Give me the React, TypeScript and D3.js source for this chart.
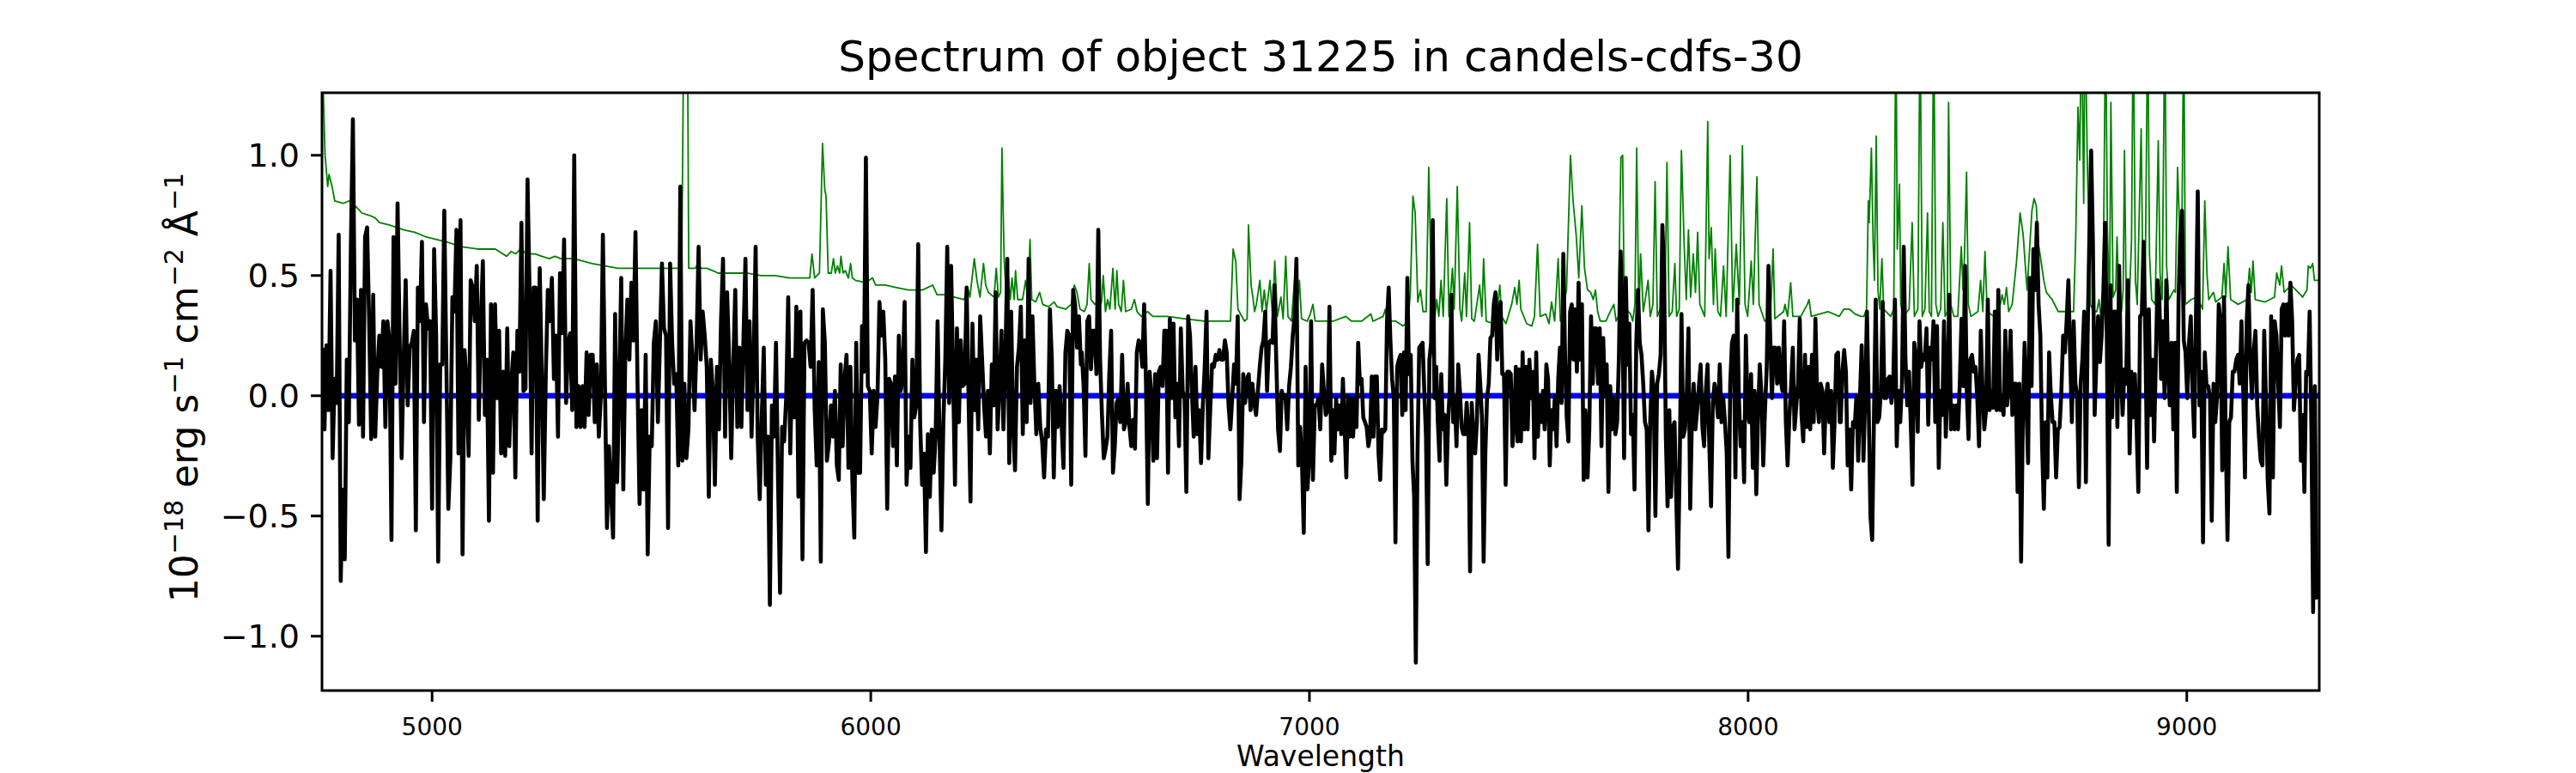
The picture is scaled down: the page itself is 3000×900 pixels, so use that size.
import { useMemo } from "react";
import * as d3 from "d3";

// figure geometry (px)
const W = 3000;
const H = 900;
const PLOT = { left: 375, right: 2701, top: 108, bottom: 804 };

const title = "Spectrum of object 31225 in candels-cdfs-30";
const xLabel = "Wavelength";
const xTicks = [5000, 6000, 7000, 8000, 9000];
const yTicks = [-1.0, -0.5, 0.0, 0.5, 1.0];
const xDomain = [4749, 9302];
const yDomain = [-1.226, 1.26];
const zeroLevel = 0;

// wavelength span covered by each flux chunk (evenly sampled inside)
const segmentRanges = [
  [4750, 5324],
  [5329, 5900],
  [5905, 6479],
  [6481, 7054],
  [7057, 7629],
  [7634, 8209],
  [8211, 8786],
  [8790, 9300],
];

const fluxSeg1 = [
  0.2, -0.14, 0.21, -0.06, 0.52, -0.26, 0.07, -0.03, 0.67, -0.77,
  -0.39, -0.68, 0.15, -0.11, 0.62, 1.15, 0.23, 0.4, -0.12, 0.44,
  -0.17, 0.66, 0.7, 0.31, -0.18, 0.42, -0.17, 0.09, 0.25, 0.12,
  0.31, -0.13, 0.31, 0.23, -0.6, 0.66, 0.05, 0.8, 0.25, -0.26,
  0.15, 0.48, -0.04, 0.2, 0.22, 0.27, -0.56, 0.45, 0.31, 0.64,
  -0.11, 0.38, 0.28, 0.31, -0.47, 0.61, 0.25, -0.69, 0.13, 0.13,
  0.77, 0.15, -0.47, -0.26, 0.41, 0.35, 0.69, -0.24, 0.73, -0.66,
  0.19, 0.05, -0.25, 0.48, 0.45, 0.31, 0.54, -0.1, 0.31, 0.56,
  -0.08, 0.15, -0.52, 0.38, -0.32, 0.38, -0.01, 0.27, -0.24, 0.1,
  -0.25, 0.28, -0.21, 0.05, 0.18, -0.34, 0.27, 0.1, 0.72, 0.02,
  0.03, 0.9, 0.43, -0.24, 0.45, 0.45, -0.52, 0.53, 0.09, -0.43,
  0.09, 0.44, 0.31, 0.49, 0.07, 0.25, -0.17, 0.51, 0.26, 0.65,
  -0.03, 0.22, 0.26, -0.06, 1.0,
];
const fluxSeg2 = [
  -0.13, 0.04, -0.13, 0.04, -0.13, 0.18, -0.08, 0.17, 0.17, -0.11,
  0.13, -0.17, 0.0, 0.67, 0.05, -0.55, -0.21, -0.4, -0.59, 0.34,
  -0.36, 0.02, 0.49, -0.39, 0.17, 0.4, 0.15, 0.47, 0.23, 0.68,
  0.05, -0.45, -0.06, -0.39, 0.17, -0.66, -0.17, -0.21, 0.22, 0.31,
  -0.11, 0.22, 0.55, 0.28, 0.25, -0.55, 0.55, 0.22, 0.05, 0.09,
  -0.29, 0.87, -0.27, 0.05, -0.26, -0.14, 0.31, 0.15, -0.06, 0.22,
  0.62, 0.15, 0.35, 0.25, 0.12, -0.42, 0.15, 0.02, -0.37, 0.12,
  -0.14, 0.31, 0.57, -0.17, 0.43, 0.15, -0.26, 0.12, 0.44, -0.13,
  0.2, -0.13, 0.23, 0.57, -0.06, 0.31, -0.17, 0.15, 0.62, -0.17,
  -0.43, -0.09, 0.2, -0.37, -0.17, -0.87, -0.04, -0.17, 0.22, -0.35,
  -0.82, -0.13, -0.19, -0.01, 0.41, -0.24, 0.15, -0.09, 0.37, -0.42,
  0.35, -0.68, 0.22, 0.23, 0.22, 0.12, 0.44, -0.06, -0.29, 0.14,
  -0.69, 0.36, 0.22, -0.27,
];
const fluxSeg3 = [
  -0.19, -0.04, -0.17, 0.02, -0.29, -0.35, 0.13, -0.21, 0.07, 0.17,
  -0.3, 0.12, -0.35, -0.59, 0.22, -0.32, -0.32, 0.29, 0.1, 0.99,
  0.04, 0.02, -0.24, 0.02, -0.13, 0.0, 0.39, 0.25, 0.35, 0.15,
  -0.47, 0.07, 0.05, -0.21, 0.08, -0.29, 0.25, 0.02, 0.07, 0.39,
  -0.37, -0.17, -0.3, 0.15, -0.09, -0.04, 0.63, -0.11, -0.37, -0.24,
  -0.65, -0.16, -0.42, -0.14, -0.32, -0.17, 0.31, -0.17, -0.56, -0.11,
  0.15, 0.62, -0.03, 0.54, 0.09, -0.37, 0.28, -0.11, 0.23, 0.04,
  0.05, 0.45, -0.01, -0.44, 0.3, -0.06, 0.15, -0.14, 0.33, 0.15,
  -0.04, -0.17, 0.02, -0.24, 0.13, -0.04, 0.43, -0.14, 0.04, 0.27,
  -0.14, 0.15, 0.57, -0.28, 0.35, -0.13, -0.31, 0.12, 0.2, 0.37,
  -0.16, 0.23, -0.11, 0.57, -0.03, 0.33, 0.04, -0.16, 0.05, -0.13,
  -0.19, -0.34, -0.14, -0.17, 0.36, 0.15, -0.34, 0.02, -0.13, 0.04,
  -0.11, -0.3, 0.18, 0.27, 0.25, -0.37, 0.44, 0.38, 0.2, 0.33, 0.13,
];
const fluxSeg4 = [
  0.18, 0.04, -0.25, 0.31, 0.33, 0.11, 0.27, 0.27, 0.09, 0.69,
  0.15, -0.08, -0.26, -0.22, -0.17, 0.09, 0.27, -0.32, -0.21, -0.03,
  -0.01, -0.11, 0.17, -0.14, -0.11, 0.05, -0.13, -0.21, -0.1, -0.22,
  0.18, 0.23, 0.22, 0.12, 0.38, 0.05, -0.45, 0.1, -0.01, -0.27,
  0.09, -0.26, 0.1, 0.12, 0.04, 0.27, 0.27, -0.32, 0.32, -0.01,
  0.3, -0.09, 0.05, -0.21, 0.28, 0.02, -0.01, -0.4, 0.33, 0.25,
  0.02, -0.17, 0.12, -0.16, -0.06, -0.28, -0.04, 0.12, 0.35, -0.26,
  -0.06, 0.13, 0.12, 0.17, 0.15, 0.19, 0.15, 0.15, 0.23, 0.18,
  -0.04, -0.14, -0.01, 0.13, 0.05, 0.33, -0.43, -0.27, 0.09, -0.03,
  0.07, 0.09, -0.06, 0.05, -0.03, -0.08, 0.02, 0.12, 0.2, 0.23,
  0.35, 0.02, 0.22, 0.23, 0.22, 0.46, 0.15, -0.14, -0.23, 0.02,
  -0.01, 0.0, -0.14, 0.04, 0.12, 0.25, 0.33, 0.57, -0.29, -0.13,
  -0.27, -0.57, 0.12, -0.39, -0.26, 0.31, -0.35, -0.04, -0.04, -0.01,
  -0.14, 0.13, 0.02, -0.08, -0.06, 0.37, -0.27, -0.06,
];
const fluxSeg5 = [
  -0.24, -0.01, -0.14, -0.04, -0.16, 0.07, -0.13, -0.34, 0.0, -0.17,
  -0.01, -0.17, -0.01, -0.13, 0.22, 0.05, 0.07, -0.09, -0.11, -0.13,
  -0.21, -0.17, 0.08, -0.17, 0.08, 0.08, -0.24, -0.35, -0.14, -0.15,
  -0.14, 0.31, 0.45, 0.23, 0.07, -0.01, -0.61, 0.12, 0.15, 0.17,
  -0.08, 0.18, -0.06, 0.49, 0.09, 0.17, -0.27, -0.42, -1.11, -0.24,
  0.2, 0.21, 0.22, 0.02, -0.17, -0.7, 0.15, 0.22, 0.73, -0.01,
  0.12, -0.11, -0.27, 0.09, -0.14, -0.08, -0.37, -0.11, 0.02, 0.42,
  -0.11, -0.01, -0.21, 0.13, 0.02, -0.13, -0.16, -0.16, -0.03, -0.14,
  -0.73, -0.03, -0.17, -0.24, -0.11, 0.17, 0.05, -0.09, -0.69, -0.24,
  -0.01, 0.05, 0.24, 0.25, 0.38, 0.43, 0.15, 0.35, 0.39, 0.09,
  0.09, -0.37, 0.1, 0.1, 0.09, -0.21, -0.11, 0.12, -0.19, 0.11,
  -0.19, 0.18, -0.14, 0.12, -0.14, 0.15, -0.01, 0.1, -0.26, 0.18,
  -0.17, 0.0, -0.11, 0.02, -0.14, 0.13, 0.07, -0.29, -0.06, -0.14,
  0.0, -0.21, 0.07, 0.2, -0.03, 0.59, 0.18, -0.09, -0.19, 0.35,
  0.38, 0.15, 0.36, 0.1, 0.47, 0.15, 0.38, -0.35, -0.06,
];
const fluxSeg6 = [
  -0.34, -0.14, 0.33, 0.05, 0.28, 0.28, 0.05, 0.28, -0.21, 0.24,
  0.0, 0.13, -0.4, 0.04, -0.14, -0.01, -0.16, -0.11, 0.15, 0.6,
  0.38, -0.26, 0.49, 0.13, 0.3, -0.16, -0.08, -0.39, 0.22, 0.44,
  0.22, 0.17, 0.05, -0.11, -0.14, -0.56, -0.11, 0.1, 0.02, -0.5,
  0.05, 0.09, 0.17, 0.71, 0.51, -0.17, -0.46, -0.06, -0.42, -0.13,
  -0.11, -0.43, -0.72, -0.27, 0.34, -0.17, -0.14, 0.0, 0.28, -0.47,
  -0.09, 0.05, -0.14, -0.06, 0.04, 0.13, -0.13, -0.21, 0.02, 0.13,
  -0.21, -0.46, -0.03, 0.05, -0.01, -0.09, 0.13, -0.11, -0.01, -0.11,
  -0.24, -0.67, 0.05, 0.22, 0.25, -0.34, 0.4, -0.01, -0.21, -0.11,
  -0.36, 0.25, -0.06, -0.11, 0.09, -0.3, 0.02, -0.41, -0.08, 0.13,
  0.0, -0.29, -0.06, 0.12, 0.54, 0.25, -0.01, 0.2, 0.2, 0.05,
  0.2, 0.07, 0.02, 0.31, -0.11, -0.29, -0.09, 0.04, 0.2, -0.14,
  -0.04, 0.05, 0.32, -0.08, -0.19, 0.17, -0.13, 0.12, -0.14, 0.17,
  -0.11, 0.32, -0.01, -0.11, 0.05, 0.02, -0.24, -0.01, 0.05, -0.11,
  0.02, -0.3, -0.11, 0.17, 0.18, -0.11,
];
const fluxSeg7 = [
  -0.11, 0.1, 0.19, 0.1, -0.29, -0.14, -0.39, -0.11, -0.13, 0.0,
  -0.27, -0.01, 0.21, -0.27, -0.01, 0.35, -0.04, -0.5, -0.6, -0.09,
  0.4, -0.11, -0.09, 0.02, 0.39, -0.01, -0.01, 0.07, 0.08, -0.03,
  0.05, 0.4, -0.21, 0.02, -0.11, 0.05, 0.62, 0.15, -0.04, 0.1,
  -0.11, -0.37, 0.22, 0.15, -0.15, 0.31, 0.12, 0.17, 0.15, 0.28,
  -0.12, 0.2, 0.15, 0.31, -0.11, 0.29, -0.3, 0.02, -0.08, 0.31,
  -0.17, 0.04, 0.42, -0.14, -0.04, -0.14, -0.04, -0.14, 0.05, 0.32,
  0.04, 0.54, 0.02, -0.18, 0.15, 0.17, 0.1, 0.12, -0.01, -0.21,
  0.27, 0.02, -0.14, -0.06, 0.4, -0.06, 0.02, -0.05, 0.35, -0.06,
  0.44, -0.06, -0.01, -0.08, 0.27, -0.04, 0.04, 0.27, -0.08, 0.05,
  0.05, -0.4, 0.05, -0.69, -0.09, 0.22, -0.03, -0.28, 0.49, 0.04,
  0.61, 0.44, 0.72, 0.38, 0.25, -0.21, -0.47, -0.11, -0.34, 0.18,
  0.0, -0.11, -0.11, -0.34, -0.14, -0.13, 0.02, 0.25, 0.18, 0.31,
  0.48, 0.17, -0.11, 0.31, 0.05, 0.0, -0.38, 0.05, 0.15, 0.35,
  -0.36, 0.25, 0.67, 1.02, 0.64,
];
const fluxSeg8 = [
  -0.08, 0.15, 0.33, 0.14, 0.25, 0.44, 0.72, 0.22, -0.62, 0.46,
  -0.09, 0.35, 0.35, -0.13, 0.54, 0.1, -0.08, 0.11, 0.05, 0.48,
  -0.24, 0.1, -0.09, 0.09, -0.13, -0.4, 0.33, 0.34, 0.64, 0.25,
  -0.3, 0.36, -0.08, 0.15, -0.19, 0.15, 0.48, 0.41, 0.07, 0.31,
  -0.01, 0.48, 0.12, -0.04, 0.22, -0.14, 0.22, -0.4, 0.4, 0.67,
  0.77, 0.23, 0.18, -0.01, 0.22, 0.33, 0.02, -0.17, 0.35, 0.85,
  -0.04, 0.1, -0.61, 0.18, 0.04, 0.04, -0.01, -0.52, 0.05, -0.11,
  -0.01, 0.38, 0.31, -0.31, 0.41, -0.17, -0.6, -0.11, -0.09, 0.1,
  0.1, 0.15, 0.17, 0.05, 0.31, 0.02, -0.34, 0.31, 0.46, 0.15,
  -0.01, 0.18, 0.27, -0.04, -0.17, -0.27, -0.29, 0.27, -0.01, -0.35,
  -0.49, 0.33, -0.34, 0.31, 0.25, 0.05, -0.13, 0.36, 0.38, 0.25,
  0.38, 0.25, 0.47, 0.31, -0.06, 0.05, 0.15, 0.17, -0.27, -0.08,
  -0.4, 0.1, 0.09, 0.35, -0.13, -0.9, 0.04, -0.84, -0.74,
];
const fluxSegments = [
  fluxSeg1, fluxSeg2, fluxSeg3, fluxSeg4,
  fluxSeg5, fluxSeg6, fluxSeg7, fluxSeg8,
];

// error / sky spectrum as [wavelength, flux] pairs
const sigmaPoints: [number, number][] = [
  [4749, 1.6], [4752, 1.26], [4756, 1.0], [4762, 0.87], [4765, 0.92], [4772, 0.87],
  [4778, 0.81], [4798, 0.8], [4810, 0.81], [4818, 0.8], [4830, 0.78], [4840, 0.76],
  [4857, 0.75], [4870, 0.74], [4880, 0.72], [4902, 0.71], [4920, 0.7], [4935, 0.69],
  [4960, 0.68], [4987, 0.66], [5010, 0.65], [5033, 0.64], [5065, 0.62], [5104, 0.61],
  [5144, 0.61], [5170, 0.58], [5180, 0.6], [5190, 0.59], [5202, 0.61], [5215, 0.59],
  [5235, 0.59], [5250, 0.58], [5267, 0.57], [5280, 0.58], [5293, 0.57], [5323, 0.57],
  [5365, 0.55], [5424, 0.53], [5489, 0.53], [5554, 0.53], [5569, 0.53], [5574, 1.6],
  [5582, 1.6], [5585, 0.53], [5600, 0.53], [5606, 0.55], [5613, 0.53], [5626, 0.53],
  [5640, 0.52], [5652, 0.51], [5685, 0.51], [5717, 0.51], [5750, 0.5], [5782, 0.5],
  [5815, 0.49], [5854, 0.49], [5861, 0.49], [5866, 0.59], [5872, 0.49], [5883, 0.51],
  [5890, 1.05], [5895, 0.86], [5898, 0.83], [5903, 0.51],
  [5910, 0.51], [5915, 0.57], [5919, 0.51], [5924, 0.54], [5929, 0.51], [5932, 0.58],
  [5937, 0.51], [5942, 0.52], [5949, 0.49], [5954, 0.55], [5958, 0.49], [5965, 0.48],
  [5988, 0.47], [6004, 0.49], [6011, 0.46], [6033, 0.46], [6059, 0.45], [6086, 0.44],
  [6118, 0.44], [6141, 0.46], [6151, 0.42], [6177, 0.42], [6190, 0.41], [6213, 0.4],
  [6221, 0.45], [6226, 0.41], [6236, 0.57], [6242, 0.48], [6249, 0.41], [6257, 0.55],
  [6262, 0.46], [6268, 0.43], [6281, 0.41], [6286, 0.53], [6291, 0.41], [6296, 0.43],
  [6299, 1.03], [6304, 0.57], [6309, 0.41], [6314, 0.49], [6318, 0.4], [6322, 0.49],
  [6327, 0.4], [6330, 0.52], [6335, 0.4], [6346, 0.4], [6353, 0.48], [6358, 0.4],
  [6363, 0.65], [6367, 0.4], [6376, 0.39], [6385, 0.43], [6392, 0.38], [6405, 0.37],
  [6418, 0.39], [6425, 0.37], [6444, 0.36], [6457, 0.38], [6464, 0.46], [6470, 0.43],
  [6477, 0.36],
  [6487, 0.35], [6493, 0.38], [6498, 0.55], [6502, 0.4], [6511, 0.38], [6516, 0.39],
  [6520, 0.35], [6526, 0.39], [6530, 0.5], [6535, 0.35], [6540, 0.4], [6545, 0.36],
  [6552, 0.53], [6557, 0.36], [6561, 0.52], [6565, 0.38], [6571, 0.35], [6576, 0.48],
  [6581, 0.35], [6594, 0.36], [6601, 0.4], [6607, 0.35], [6617, 0.33], [6631, 0.35],
  [6643, 0.33], [6676, 0.33], [6715, 0.32], [6760, 0.31], [6806, 0.31], [6820, 0.31],
  [6826, 0.61], [6832, 0.56], [6837, 0.36], [6852, 0.31], [6858, 0.32], [6861, 0.71],
  [6867, 0.46], [6871, 0.41], [6875, 0.35], [6879, 0.38], [6887, 0.48], [6892, 0.35],
  [6897, 0.44], [6902, 0.35], [6910, 0.48], [6916, 0.33], [6921, 0.56], [6927, 0.33],
  [6935, 0.41], [6940, 0.32], [6946, 0.58], [6951, 0.33], [6959, 0.31], [6966, 0.48],
  [6970, 0.32], [6977, 0.48], [6982, 0.32], [6995, 0.31], [7002, 0.34], [7008, 0.38],
  [7013, 0.31], [7031, 0.31], [7054, 0.31],
  [7083, 0.33], [7096, 0.31], [7119, 0.31], [7140, 0.34], [7145, 0.31], [7168, 0.33],
  [7173, 0.36], [7178, 0.31], [7197, 0.31], [7213, 0.29], [7225, 0.31], [7230, 0.43],
  [7236, 0.83], [7241, 0.76], [7247, 0.39], [7253, 0.44], [7259, 0.35], [7266, 0.35],
  [7272, 0.95], [7279, 0.35], [7285, 0.31], [7290, 0.4], [7295, 0.33], [7300, 0.48],
  [7305, 0.33], [7313, 0.82], [7318, 0.33], [7326, 0.53], [7330, 0.36], [7337, 0.87],
  [7343, 0.36], [7347, 0.31], [7354, 0.51], [7358, 0.33], [7365, 0.72], [7370, 0.32],
  [7376, 0.31], [7388, 0.46], [7393, 0.33], [7397, 0.57], [7403, 0.31], [7419, 0.3],
  [7425, 0.31], [7434, 0.46], [7438, 0.33], [7448, 0.3], [7461, 0.38], [7468, 0.45],
  [7473, 0.38], [7478, 0.48], [7482, 0.36], [7495, 0.3], [7507, 0.29], [7513, 0.33],
  [7520, 0.63], [7526, 0.33], [7539, 0.34], [7546, 0.3], [7552, 0.39], [7559, 0.31],
  [7567, 0.57], [7572, 0.31], [7586, 0.44], [7595, 1.0], [7601, 0.81], [7608, 0.67],
  [7614, 0.49], [7621, 0.79], [7627, 0.53], [7634, 0.44],
  [7641, 0.43], [7647, 0.4], [7652, 0.44], [7657, 0.35], [7663, 0.31], [7676, 0.31],
  [7683, 0.34], [7694, 0.38], [7699, 0.31], [7704, 0.33], [7710, 0.99], [7714, 1.0],
  [7717, 0.48], [7722, 0.36], [7732, 0.34], [7737, 0.31], [7742, 0.38], [7746, 1.03],
  [7751, 0.33], [7755, 0.59], [7761, 0.35], [7768, 0.43], [7772, 0.48], [7777, 0.33],
  [7783, 0.38], [7788, 0.89], [7793, 0.33], [7804, 0.38], [7810, 0.33], [7815, 0.97],
  [7820, 0.33], [7827, 0.35], [7833, 0.55], [7837, 0.33], [7843, 0.36], [7848, 1.02],
  [7854, 0.64], [7859, 0.4], [7864, 0.69], [7869, 0.41], [7875, 0.59], [7880, 0.43],
  [7885, 0.68], [7890, 0.38], [7901, 0.33], [7908, 1.14], [7911, 0.57], [7916, 0.7],
  [7921, 0.38], [7925, 0.61], [7931, 0.35], [7937, 0.33], [7944, 0.54], [7950, 0.33],
  [7959, 1.0], [7965, 0.35], [7973, 0.63], [7980, 0.38], [7987, 1.04], [7993, 0.38],
  [7999, 0.33], [8007, 0.56], [8012, 0.38], [8020, 0.91], [8025, 0.38], [8038, 0.31],
  [8051, 0.33], [8057, 0.61], [8061, 0.32], [8081, 0.35], [8084, 0.38], [8090, 0.33],
  [8097, 0.47], [8102, 0.33], [8120, 0.33], [8135, 0.38], [8139, 0.4], [8144, 0.33],
  [8182, 0.35], [8208, 0.33],
  [8218, 0.36], [8231, 0.36], [8244, 0.34], [8257, 0.33], [8264, 0.33], [8270, 0.36],
  [8274, 0.81], [8276, 0.72], [8281, 1.03], [8285, 0.64], [8288, 0.48], [8292, 1.08],
  [8296, 0.44], [8300, 0.36], [8305, 0.57], [8309, 0.36], [8325, 0.33], [8332, 0.36],
  [8337, 1.6], [8340, 0.61], [8345, 0.88], [8348, 0.38], [8354, 0.33], [8367, 0.36],
  [8374, 0.72], [8379, 0.33], [8387, 0.36], [8392, 1.6], [8397, 0.33], [8403, 0.36],
  [8409, 0.76], [8413, 0.35], [8418, 0.33], [8423, 1.6], [8428, 0.38], [8433, 0.33],
  [8439, 0.36], [8444, 0.72], [8449, 0.33], [8454, 0.35], [8457, 1.22], [8462, 0.38],
  [8469, 0.33], [8478, 0.33], [8486, 0.62], [8490, 0.44], [8493, 0.57], [8498, 0.93],
  [8502, 0.38], [8508, 0.33], [8524, 0.35], [8530, 0.48], [8535, 0.35], [8540, 0.6],
  [8545, 0.35], [8560, 0.33], [8570, 0.33], [8579, 0.42], [8584, 0.38], [8589, 0.45],
  [8594, 0.35], [8602, 0.38], [8612, 0.56], [8620, 0.76], [8627, 0.67], [8632, 0.54],
  [8636, 0.44], [8641, 0.59], [8647, 0.77], [8652, 0.82], [8657, 0.79], [8661, 0.64],
  [8667, 0.57], [8674, 0.48], [8680, 0.43], [8693, 0.4], [8707, 0.35], [8720, 0.35],
  [8733, 0.35], [8742, 0.35], [8747, 0.67], [8752, 1.2], [8756, 0.98], [8760, 1.6],
  [8765, 0.8], [8768, 1.6], [8773, 1.0], [8780, 0.38],
  [8788, 0.35], [8795, 0.35], [8800, 0.4], [8804, 0.33], [8809, 0.38], [8815, 1.6],
  [8819, 0.69], [8824, 0.38], [8827, 1.22], [8832, 0.41], [8838, 0.44], [8841, 0.66],
  [8845, 0.41], [8851, 0.35], [8855, 0.44], [8858, 1.02], [8862, 0.38], [8869, 0.4],
  [8874, 0.64], [8878, 1.6], [8883, 0.48], [8887, 0.38], [8896, 1.11], [8900, 0.48],
  [8905, 0.43], [8911, 1.6], [8915, 0.59], [8920, 0.4], [8928, 0.38], [8935, 1.06],
  [8939, 0.51], [8944, 0.4], [8950, 1.6], [8954, 0.54], [8959, 0.4], [8971, 0.44],
  [8974, 0.43], [8979, 0.95], [8984, 0.67], [8988, 0.48], [8993, 1.6], [8997, 0.38],
  [9010, 0.4], [9023, 0.41], [9036, 0.36], [9041, 0.81], [9046, 0.51], [9050, 0.4],
  [9061, 0.43], [9066, 0.39], [9080, 0.41], [9085, 0.55], [9089, 0.41], [9094, 0.62],
  [9100, 0.4], [9117, 0.38], [9137, 0.4], [9143, 0.53], [9147, 0.43], [9151, 0.56],
  [9156, 0.4], [9179, 0.39], [9200, 0.41], [9205, 0.51], [9212, 0.46], [9216, 0.54],
  [9222, 0.43], [9238, 0.46], [9254, 0.43], [9264, 0.41], [9274, 0.44], [9277, 0.54],
  [9282, 0.53], [9287, 0.55], [9291, 0.48], [9302, 0.48],
];

const FONT = "'DejaVu Sans', sans-serif";

export default function App() {
  const x = d3.scaleLinear().domain(xDomain).range([PLOT.left, PLOT.right]);
  const y = d3.scaleLinear().domain(yDomain).range([PLOT.bottom, PLOT.top]);

  const fluxPoints = useMemo(() => {
    const pts: [number, number][] = [];
    fluxSegments.forEach((seg, i) => {
      const [a, b] = segmentRanges[i];
      const step = (b - a) / (seg.length - 1);
      seg.forEach((v, j) => pts.push([a + j * step, v]));
    });
    return pts;
  }, []);

  const line = d3
    .line<[number, number]>()
    .x((d) => x(d[0]))
    .y((d) => y(d[1]));

  const fmtY = d3.format(".1f");
  const sup = 30;
  const rise = 17;

  return (
    <div style={{ position: "absolute", left: 0, top: 0, width: W, height: H, background: "#fff" }}>
      <svg width={W} height={H} viewBox={`0 0 ${W} ${H}`} style={{ display: "block" }} fontFamily={FONT}>
        <defs>
          <clipPath id="plot-clip">
            <rect
              x={PLOT.left}
              y={PLOT.top}
              width={PLOT.right - PLOT.left}
              height={PLOT.bottom - PLOT.top}
            />
          </clipPath>
        </defs>
        <rect width={W} height={H} fill="#fff" />

        <g clipPath="url(#plot-clip)">
          <path d={line(sigmaPoints) ?? ""} fill="none" stroke="#008000" strokeWidth={1.8} strokeLinejoin="round" />
          <path
            d={line([[xDomain[0], zeroLevel], [xDomain[1], zeroLevel]]) ?? ""}
            fill="none"
            stroke="#0000ff"
            strokeWidth={6.5}
          />
          <path d={line(fluxPoints) ?? ""} fill="none" stroke="#000" strokeWidth={4.6} strokeLinejoin="round" />
        </g>

        {/* frame */}
        <rect
          x={PLOT.left}
          y={PLOT.top}
          width={PLOT.right - PLOT.left}
          height={PLOT.bottom - PLOT.top}
          fill="none"
          stroke="#000"
          strokeWidth={3}
        />

        {/* x ticks */}
        {xTicks.map((t) => (
          <g key={t} transform={`translate(${x(t)},${PLOT.bottom})`}>
            <line y2={13} stroke="#000" strokeWidth={3} />
            <text y={52} textAnchor="middle" fontSize={28} fill="#000">
              {t}
            </text>
          </g>
        ))}
        {/* y ticks */}
        {yTicks.map((t) => (
          <g key={t} transform={`translate(${PLOT.left},${y(t)})`}>
            <line x2={-13} stroke="#000" strokeWidth={3} />
            <text x={-26} dy="0.36em" textAnchor="end" fontSize={38} fill="#000">
              {fmtY(t)}
            </text>
          </g>
        ))}

        <text x={(PLOT.left + PLOT.right) / 2} y={83} textAnchor="middle" fontSize={50} fill="#000">
          {title}
        </text>
        <text x={(PLOT.left + PLOT.right) / 2} y={892} textAnchor="middle" fontSize={33} fill="#000">
          {xLabel}
        </text>

        <text transform={`translate(230,${(PLOT.top + PLOT.bottom) / 2 - 5}) rotate(-90)`} textAnchor="middle" fontSize={44} fill="#000">
          10
          <tspan dy={-rise} fontSize={sup}>−18</tspan>
          <tspan dy={rise}>{" erg s"}</tspan>
          <tspan dy={-rise} fontSize={sup}>−1</tspan>
          <tspan dy={rise}>{" cm"}</tspan>
          <tspan dy={-rise} fontSize={sup}>−2</tspan>
          <tspan dy={rise}>{" Å"}</tspan>
          <tspan dy={-rise} fontSize={sup}>−1</tspan>
        </text>
      </svg>
    </div>
  );
}
